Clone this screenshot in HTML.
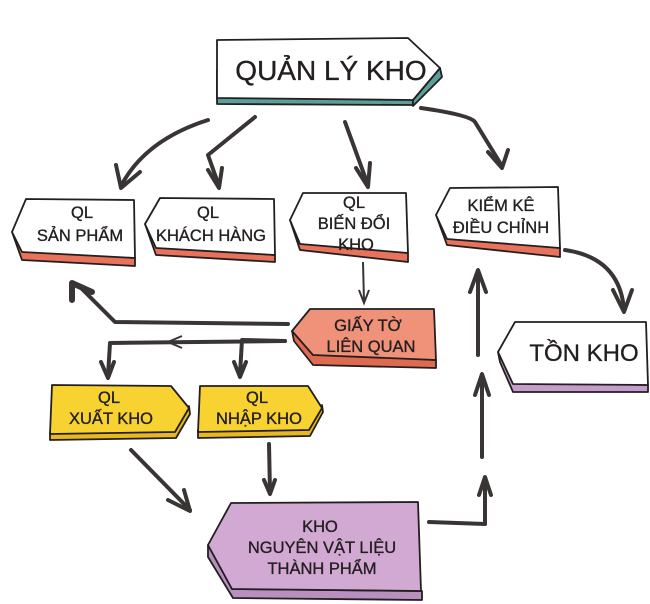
<!DOCTYPE html>
<html><head><meta charset="utf-8"><style>
body{margin:0;background:#fff}
svg{display:block}
text{font-family:"Liberation Sans","DejaVu Sans",sans-serif;fill:#231f20;text-anchor:middle;stroke:#231f20;stroke-width:0.35}
</style></head><body>
<svg width="650" height="604" viewBox="0 0 650 604" xmlns="http://www.w3.org/2000/svg">
<g stroke="#231f20" stroke-width="1.8" stroke-linejoin="round">
<polygon points="217,70 413,70 413,105 217,104" fill="#5b9f9a"/>
<polygon points="413,100 440,68 442,77 413,106" fill="#5b9f9a"/>
<polygon points="217,40 408,38 440,68 413,100 217,98" fill="#fff"/>
<polygon points="12,232 22,260 135,266 135,258 22,250" fill="#e8735a"/>
<polygon points="26,199 134,200 135,258 22,252 12,232" fill="#fff"/>
<polygon points="145,224 156,255 275,262 275,255 156,246" fill="#e8735a"/>
<polygon points="160,198 274,199 275,255 156,248 145,224" fill="#fff"/>
<polygon points="290,220 300,250 408,262 408,253 300,242" fill="#e8735a"/>
<polygon points="303,193 406,193 408,253 300,244 290,220" fill="#fff"/>
<polygon points="436,215 447,245 560,257 560,248 447,237" fill="#e8735a"/>
<polygon points="450,188 558,187 560,248 447,239 436,215" fill="#fff"/>
<polygon points="292,331 294,341 313,365 436,368 436,360 313,353" fill="#e06a50"/>
<polygon points="310,309 434,309 436,360 313,355 292,331" fill="#f0917a"/>
<polygon points="498,352 500,362 513,392 648,392 648,385 513,382" fill="#c59ccb"/>
<polygon points="515,322 646,322 648,385 513,384 498,352" fill="#fff"/>
<polygon points="50,432 50,440 176,438 190,414 189,406 175,430" fill="#e8b820"/>
<polygon points="52,385 171,386 189,408 175,432 50,434" fill="#f7d230"/>
<polygon points="198,430 198,438 310,436 323,412 322,405 309,428" fill="#e8b820"/>
<polygon points="200,386 308,386 322,408 309,430 198,432" fill="#f7d230"/>
<polygon points="208,545 208,557 233,598 422,600 422,591 232,589" fill="#b98fc0"/>
<polygon points="231,503 418,502 421,591 232,589 208,545" fill="#d1a9d3"/>
</g>
<g font-size="16.5">
<text x="331" y="80" font-size="28">QUẢN LÝ KHO</text>
<text x="82" y="218">QL</text><text x="80" y="241">SẢN PHẨM</text>
<text x="208" y="218">QL</text><text x="211" y="241">KHÁCH HÀNG</text>
<text x="354" y="208">QL</text><text x="354" y="229">BIẾN ĐỔI</text><text x="356" y="250">KHO</text>
<text x="501" y="211">KIỂM KÊ</text><text x="501" y="233">ĐIỀU CHỈNH</text>
<text x="368" y="331">GIẤY TỜ</text><text x="371" y="352">LIÊN QUAN</text>
<text x="584" y="361" font-size="24">TỒN KHO</text>
<text x="109" y="403">QL</text><text x="111" y="424">XUẤT KHO</text>
<text x="257" y="403">QL</text><text x="259" y="424">NHẬP KHO</text>
<text x="320" y="532">KHO</text><text x="322" y="553">NGUYÊN VẬT LIỆU</text><text x="322" y="574">THÀNH PHẨM</text>
</g>
<g stroke="#3a3535" stroke-width="4" fill="none" stroke-linecap="round" stroke-linejoin="round">
<path d="M208,120 Q145,140 121,186"/><path d="M116,165 L121,188 L140,172"/>
<path d="M255,117 L208,155 L219,186"/><path d="M208,170 L219,188 L222,168"/>
<path d="M345,122 L368,185"/><path d="M356,168 L368,187 L370,163"/>
<path d="M421,108 Q470,115 475,122 L502,166"/><path d="M488,152 L502,168 L508,150"/>
<path d="M565,250 Q620,258 624,310"/><path d="M613,290 L624,312 L632,290"/>
<path d="M288,324 L115,322 L80,287"/><path d="M72,300 L72,283 L92,292" stroke-width="6"/>
<path d="M285,341 L110,343 L108,376"/><path d="M101,362 L108,378 L114,362"/>
<path d="M285,341 L242,340 L240,374"/><path d="M234,362 L240,377 L246,362"/>
<path d="M131,450 L190,510"/><path d="M168,500 L190,511 L184,490"/>
<path d="M269,444 L270,492"/><path d="M264,480 L270,494 L275,480"/>
<path d="M429,522 L485,524 L485,480"/><path d="M479,495 L485,477 L491,495"/>
<path d="M482,457 L482,378"/><path d="M475,395 L482,374 L489,395"/>
<path d="M478,355 L478,274"/><path d="M470,292 L478,270 L486,292"/>
</g>
<g stroke="#3a3535" stroke-width="2" fill="none">
<path d="M363,262 L364,302 M359,290 L364,303 L369,290"/>
<path d="M228,341 L170,342 M182,336 L168,342 L182,348"/>
</g>
</svg>
</body></html>
